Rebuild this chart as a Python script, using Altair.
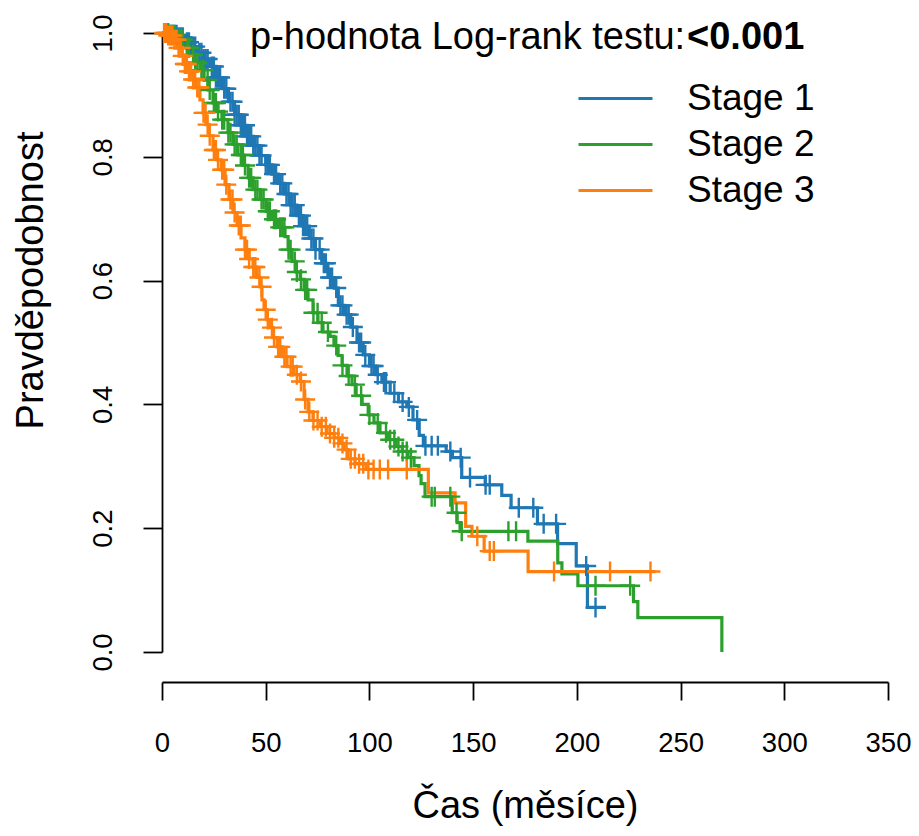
import altair as alt
import pandas as pd

stages = ["Stage 1", "Stage 2", "Stage 3"]
colors = ["#1f77b4", "#2ca02c", "#ff7f0e"]
x_ticks = [0, 50, 100, 150, 200, 250, 300, 350]
y_ticks = [0.0, 0.2, 0.4, 0.6, 0.8, 1.0]
x_title = "Čas (měsíce)"
y_title = "Pravděpodobnost"
p_label = "p-hodnota Log-rank testu:"
p_value = "<0.001"

# Stage 1 (event times and survival after each event)
s1_time = [0, 3, 8, 11, 14, 17, 20, 23, 26, 29, 32, 35, 38, 41, 44, 47, 50, 53, 56, 59,
           62, 65, 68, 71, 74, 77, 80, 83, 85, 88, 91, 94, 97, 100, 103, 106, 110, 114,
           118, 121, 124, 126, 137, 140, 144.5, 155.8, 163.8, 168.3, 181, 190.7, 199.7, 205.1]
s1_surv = [1.0, 0.997, 0.993, 0.985, 0.978, 0.968, 0.958, 0.946, 0.928, 0.910, 0.889, 0.868,
           0.851, 0.833, 0.818, 0.802, 0.787, 0.772, 0.757, 0.740, 0.722, 0.705, 0.688, 0.668,
           0.650, 0.628, 0.605, 0.588, 0.560, 0.545, 0.525, 0.500, 0.480, 0.462, 0.448, 0.436,
           0.418, 0.404, 0.396, 0.375, 0.350, 0.333, 0.324, 0.314, 0.282, 0.270, 0.253, 0.233,
           0.207, 0.175, 0.139, 0.072]
s1_end = 214.0
s1_cens = [4, 5, 6, 7, 8, 9, 10, 12, 13, 14, 15, 16, 18, 19, 20, 21, 22, 24, 25, 26, 27, 28,
           30, 31, 33, 34, 35, 36, 37, 38, 39, 40, 41, 42, 43, 44, 45, 46, 47, 48, 50, 51, 52,
           54, 55, 57, 58, 60, 61, 62, 63, 64, 66, 67, 68, 69, 70, 72, 73, 74, 76, 78, 79, 81,
           82, 84, 86, 87, 89, 90, 92, 95, 96, 98, 101, 102, 104, 107, 108, 112, 116, 119,
           123, 127, 130, 133, 139, 144, 148.5, 156, 158, 172, 179, 184, 190, 204.5, 209]

# Stage 2
s2_time = [0, 3.9, 7.7, 11.1, 13.5, 15.9, 18.3, 20.3, 22.2, 24.6, 27.0, 28.9, 31.8, 34.2,
           36.6, 39.1, 41.5, 43.9, 47.3, 50.2, 53.1, 56.0, 59.3, 60.8, 62.7, 64.6, 66.6, 68.5,
           70.4, 72.8, 75.2, 77.6, 81.0, 82.9, 84.9, 86.8, 89.2, 91.6, 93.6, 96.5, 99.4, 102.2,
           105.1, 109.0, 112.9, 115.8, 118.6, 121.5, 123.9, 124.9, 126.8, 139.9, 142.3, 143.7,
           176.4, 190.8, 192.8, 200.5, 227.3, 229.4, 269.9]
s2_surv = [1.0, 0.997, 0.989, 0.976, 0.965, 0.952, 0.940, 0.924, 0.908, 0.887, 0.873, 0.860,
           0.839, 0.820, 0.803, 0.786, 0.766, 0.747, 0.731, 0.712, 0.699, 0.686, 0.671, 0.650,
           0.631, 0.614, 0.602, 0.585, 0.569, 0.548, 0.532, 0.517, 0.510, 0.495, 0.479, 0.463,
           0.446, 0.432, 0.414, 0.400, 0.383, 0.370, 0.354, 0.343, 0.332, 0.324, 0.314, 0.301,
           0.285, 0.272, 0.251, 0.225, 0.209, 0.195, 0.179, 0.144, 0.126, 0.107, 0.0814,
           0.0555, 0.0]
s2_end = 269.9
s2_cens = [3, 4, 5, 6, 8, 9, 10, 12, 13, 15, 16, 17, 19, 20, 22, 23, 25, 26, 27, 29, 30, 32,
           33, 35, 36, 38, 39, 40, 42, 43, 45, 46, 48, 49, 51, 52, 54, 55, 57, 58, 59, 61, 62,
           64, 65, 67, 69, 70, 73, 75, 77, 80, 84, 87, 90, 93, 96, 100, 104, 108, 110, 112,
           114, 116, 118, 120, 130, 131.5, 139, 142, 144.5, 167, 170.7, 209, 225.7]

# Stage 3
s3_time = [0, 2.9, 5.8, 7.7, 9.2, 10.6, 12.5, 14.5, 16.4, 18.3, 19.8, 21.2, 22.7, 24.6, 26.5,
           28.5, 30.4, 32.3, 34.2, 36.2, 38.1, 40.0, 42.0, 43.9, 45.8, 47.3, 48.2, 49.2, 50.6,
           52.1, 53.5, 55.5, 57.9, 60.3, 63.7, 66.6, 68.5, 70.4, 72.8, 76.2, 79.6, 83.0, 85.8,
           87.8, 89.7, 93.1, 98.4, 128.4, 141.3, 146.4, 149.4, 155.3, 176.5]
s3_surv = [1.0, 0.996, 0.989, 0.976, 0.963, 0.950, 0.938, 0.925, 0.912, 0.892, 0.871, 0.852,
           0.834, 0.811, 0.795, 0.779, 0.755, 0.731, 0.710, 0.689, 0.669, 0.650, 0.635, 0.622,
           0.605, 0.590, 0.569, 0.553, 0.537, 0.524, 0.508, 0.493, 0.477, 0.461, 0.448, 0.437,
           0.408, 0.388, 0.374, 0.364, 0.353, 0.346, 0.337, 0.327, 0.312, 0.304, 0.295, 0.257,
           0.241, 0.203, 0.187, 0.163, 0.130]
s3_end = 238.0
s3_cens = [1, 2, 3, 4, 5, 6, 7, 8, 9, 10, 11, 12, 13, 14, 15, 16, 17, 18, 20, 21, 22, 23, 25,
           26, 27, 29, 30, 31, 33, 34, 35, 37, 38, 40, 41, 42, 44, 45, 47, 48, 50, 51, 53, 54,
           56, 57, 59, 60, 62, 63, 65, 67, 69, 71, 73, 75, 77, 79, 81, 83, 85, 87, 89, 91, 93,
           95, 97, 99.5, 102, 105, 109, 118, 152, 158, 160, 189, 216, 235.5]

series = [
    (stages[0], s1_time, s1_surv, s1_end, s1_cens),
    (stages[1], s2_time, s2_surv, s2_end, s2_cens),
    (stages[2], s3_time, s3_surv, s3_end, s3_cens),
]


def surv_at(times, survs, t):
    s = survs[0]
    for ti, si in zip(times, survs):
        if ti <= t:
            s = si
        else:
            break
    return s


line_rows, cens_rows = [], []
for name, tt, ss, end, cens in series:
    for i, (t, s) in enumerate(zip(tt, ss)):
        line_rows.append({"stage": name, "t": t, "s": s, "o": i})
    if end > tt[-1]:
        line_rows.append({"stage": name, "t": end, "s": ss[-1], "o": len(tt)})
    for c in cens:
        cens_rows.append({"stage": name, "t": c, "s": surv_at(tt, ss, c)})

line_df = pd.DataFrame(line_rows)
cens_df = pd.DataFrame(cens_rows)

FONT = "Liberation Sans"
W, H = 726, 619

xscale = alt.Scale(domain=[0, 350], nice=False, zero=False)
yscale = alt.Scale(domain=[0, 1], nice=False)
cscale = alt.Scale(domain=stages, range=colors)

x_axis = alt.Axis(values=x_ticks, offset=30, tickSize=18, labelPadding=51,
                  labelBaseline="alphabetic", labelFontSize=27.5, title=x_title,
                  titleFontSize=38, titleFontWeight="normal", titleY=135,
                  titleBaseline="alphabetic", grid=False, labelFlush=False)
y_axis = alt.Axis(values=y_ticks, format=".1f", tickSize=19, labelAngle=270,
                  labelAlign="center", labelBaseline="alphabetic", labelPadding=32,
                  labelFontSize=27.5, title=y_title, titleFontSize=38,
                  titleFontWeight="normal", titleAngle=270, titleX=-120, titleY=247,
                  titleAlign="center", titleBaseline="alphabetic", grid=False,
                  labelFlush=False)

lines = alt.Chart(line_df).mark_line(interpolate="step-after", strokeWidth=3.2).encode(
    x=alt.X("t:Q", scale=xscale, axis=x_axis),
    y=alt.Y("s:Q", scale=yscale, axis=y_axis),
    color=alt.Color("stage:N", scale=cscale, legend=alt.Legend(
        title=None, orient="none", legendX=433, legendY=45,
        symbolType="M-2,0H2", symbolSize=1369, symbolStrokeWidth=3.2,
        labelFontSize=37, labelFont=FONT, labelOffset=51, rowPadding=7,
        padding=0, labelColor="black")),
    order="o:Q",
)

points = alt.Chart(cens_df).mark_point(
    shape="M-1,0H1M0,-1V1", size=400, strokeWidth=2.4, filled=False, opacity=1
).encode(
    x="t:Q",
    y="s:Q",
    color=alt.Color("stage:N", scale=cscale, legend=None),
)

txt1 = alt.Chart(pd.DataFrame({"label": [p_label]})).mark_text(
    align="left", baseline="middle", fontSize=38, font=FONT, color="black"
).encode(text="label:N", x=alt.value(88), y=alt.value(5))

txt2 = alt.Chart(pd.DataFrame({"label": [p_value]})).mark_text(
    align="left", baseline="middle", fontSize=38, font=FONT, fontWeight="bold",
    color="black"
).encode(text="label:N", x=alt.value(525), y=alt.value(5))

chart = alt.layer(lines, points, txt1, txt2).properties(
    width=W, height=H,
    background="white",
    autosize=alt.AutoSizeParams(type="none"),
    padding={"left": 154, "top": 25, "right": 23, "bottom": 176},
).configure_view(strokeWidth=0, stroke="transparent").configure_axis(
    domainColor="black", tickColor="black", labelColor="black", titleColor="black",
    domainWidth=1.8, tickWidth=1.8, labelFont=FONT, titleFont=FONT,
)

chart.save("out.html", embed_options={"renderer": "svg", "actions": False})
